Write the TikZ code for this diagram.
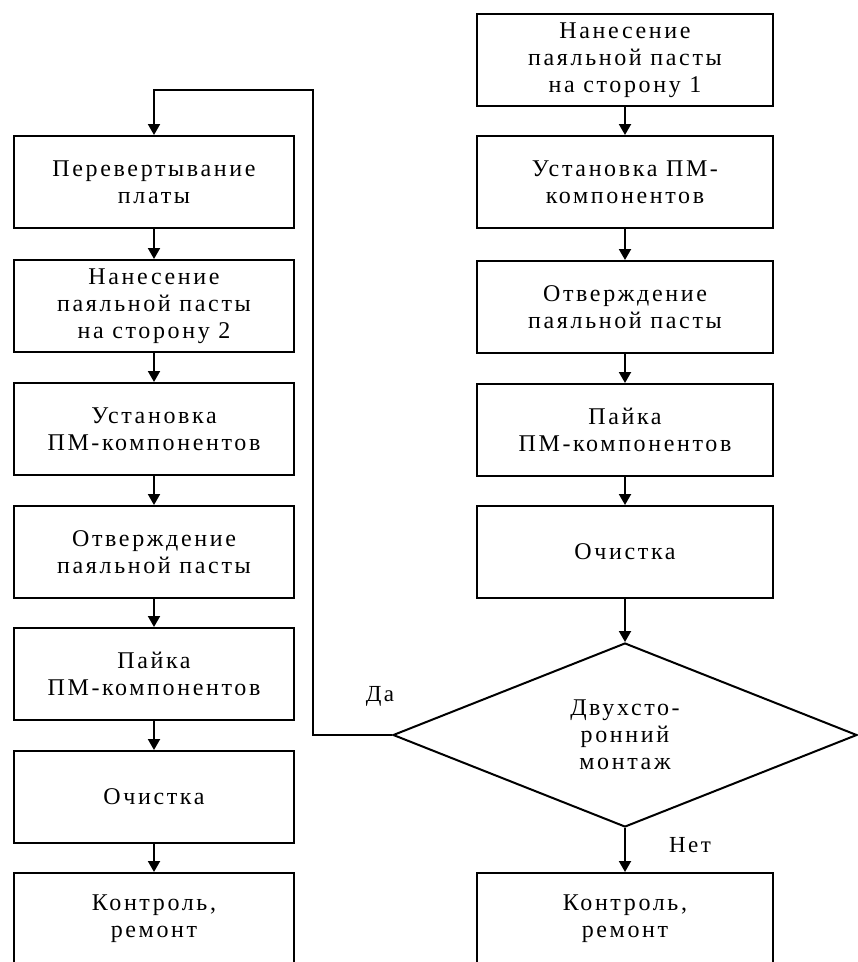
\documentclass[tikz,border=0pt]{standalone}
\usepackage{fontspec}
\setmainfont{Liberation Serif}[LetterSpace=11]
\usetikzlibrary{arrows.meta}
\usetikzlibrary{shapes.geometric}

\begin{document}
\begin{tikzpicture}[x=1pt,y=-1pt,
 blk/.style={draw,line width=2pt,minimum width=280pt,minimum height=92pt,
  align=center,inner sep=2pt,font=\fontsize{24}{27}\selectfont},
 dec/.style={draw,diamond,line width=2pt,aspect=2.52,minimum width=464pt,
  minimum height=184pt,inner sep=0pt,align=center,font=\fontsize{24}{27}\selectfont},
 lbl/.style={font=\fontsize{23}{26}\selectfont},
 line width=2pt, >={Triangle[width=12pt,length=11pt]}]
\useasboundingbox (0,0) rectangle (858,962);
% left column (side 2)
\node[blk] (l1) at (154,182) {Перевертывание\\платы};
\node[blk] (l2) at (154,306) {Нанесение\\паяльной пасты\\на сторону 2};
\node[blk] (l3) at (154,429) {Установка\\ПМ-компонентов};
\node[blk] (l4) at (154,552) {Отверждение\\паяльной пасты};
\node[blk] (l5) at (154,674) {Пайка\\ПМ-компонентов};
\node[blk] (l6) at (154,797) {Очистка};
\node[blk] (l7) at (154,919) {Контроль,\\ремонт};
% right column (side 1)
\node[blk,minimum width=296pt] (r1) at (625,60) {Нанесение\\паяльной пасты\\на сторону 1};
\node[blk,minimum width=296pt] (r2) at (625,182) {Установка ПМ-\\компонентов};
\node[blk,minimum width=296pt] (r3) at (625,307) {Отверждение\\паяльной пасты};
\node[blk,minimum width=296pt] (r4) at (625,430) {Пайка\\ПМ-компонентов};
\node[blk,minimum width=296pt] (r5) at (625,552) {Очистка};
\node[dec] (d) at (625,735) {Двухсто-\\ронний\\монтаж};
\node[blk,minimum width=296pt] (r6) at (625,919) {Контроль,\\ремонт};

\foreach \a/\b in {l1/l2,l2/l3,l3/l4,l4/l5,l5/l6,l6/l7,r1/r2,r2/r3,r3/r4,r4/r5,r5/d,d/r6}
 \draw[->] (\a) -- (\b);

\coordinate (loop) at (313,90);
\draw[->] (d.west) -| (loop) -| (l1.north);
\node[lbl] (yes) at (380,696) {Да};
\node[lbl] (no) at (690,845) {Нет};
\end{tikzpicture}
\end{document}
